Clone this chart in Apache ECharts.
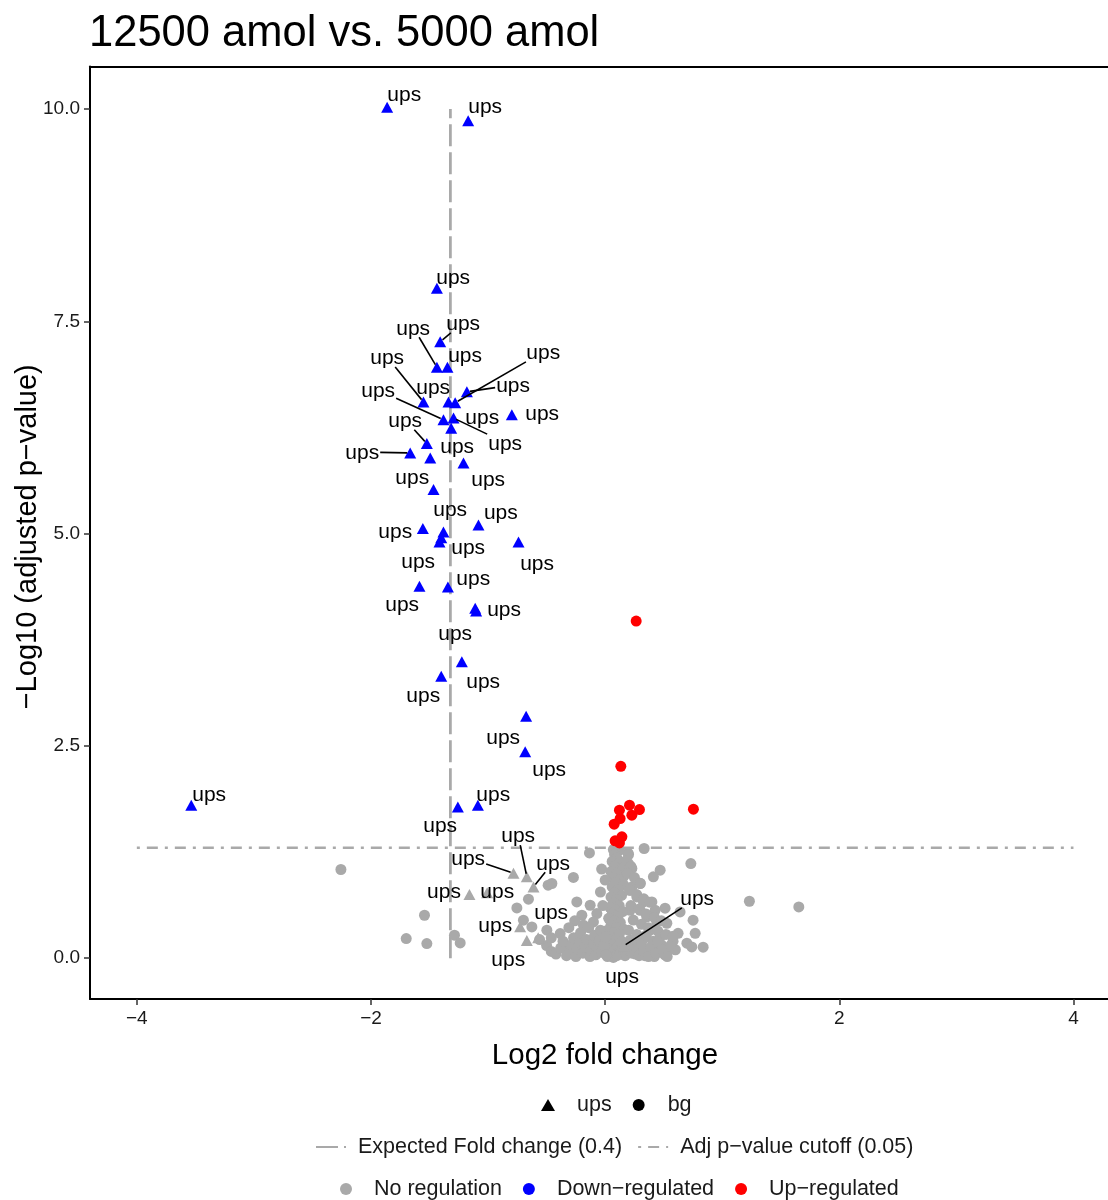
<!DOCTYPE html>
<html>
<head>
<meta charset="utf-8">
<script src="https://cdn.jsdelivr.net/npm/echarts@6/dist/echarts.min.js"></script>
<style>
html,body{margin:0;padding:0;background:#fff;}
#chart{width:1108px;height:1200px;}
</style>
</head>
<body>
<div id="chart"></div>
<script>
// ---------------- DATA ----------------
const titleText = '12500 amol vs. 5000 amol';
const xTicks = [-4, -2, 0, 2, 4];
const yTicks = [0, 2.5, 5, 7.5, 10];
const expectedFoldChange = 0.4;   // vertical reference (log2 scale)
const adjPCutoff = 0.05;          // horizontal reference (-log10 scale)
const vLineYRange = [0, 10];
const hLineXRange = [-4, 4];
const labelText = 'ups';

// ups, down-regulated: [log2FC, -log10 adj p, labelX, labelY, leaderLine]
const upsDown = [
  [-1.862, 10.02, -1.716, 10.18, 0],
  [-1.170, 9.86, -1.025, 10.04, 0],
  [-1.437, 7.89, -1.298, 8.03, 0],
  [-1.409, 7.26, -1.213, 7.48, 1],
  [-1.437, 6.96, -1.640, 7.43, 1],
  [-1.347, 6.96, -1.196, 7.11, 0],
  [-1.552, 6.55, -1.862, 7.08, 1],
  [-1.338, 6.55, -1.469, 6.73, 0],
  [-1.181, 6.67, -0.786, 6.75, 1],
  [-1.281, 6.54, -0.529, 7.14, 1],
  [-1.381, 6.34, -1.939, 6.69, 1],
  [-1.295, 6.36, -0.854, 6.07, 1],
  [-1.315, 6.24, -1.050, 6.38, 0],
  [-0.797, 6.40, -0.538, 6.42, 0],
  [-1.523, 6.06, -1.708, 6.34, 1],
  [-1.665, 5.95, -2.075, 5.96, 1],
  [-1.494, 5.89, -1.264, 6.04, 0],
  [-1.210, 5.83, -0.999, 5.65, 0],
  [-1.466, 5.52, -1.648, 5.67, 0],
  [-1.557, 5.06, -1.793, 5.03, 0],
  [-1.082, 5.10, -0.891, 5.26, 0],
  [-1.381, 5.02, -1.324, 5.29, 0],
  [-1.415, 4.90, -1.597, 4.68, 0],
  [-1.400, 4.95, -1.170, 4.85, 0],
  [-0.740, 4.90, -0.581, 4.66, 0],
  [-1.586, 4.38, -1.734, 4.17, 0],
  [-1.343, 4.37, -1.127, 4.48, 0],
  [-1.110, 4.12, -0.863, 4.12, 0],
  [-1.102, 4.09, -1.281, 3.83, 0],
  [-1.224, 3.49, -1.042, 3.27, 0],
  [-1.400, 3.32, -1.554, 3.10, 0],
  [-0.675, 2.85, -0.871, 2.61, 0],
  [-0.683, 2.43, -0.478, 2.23, 0],
  [-3.535, 1.80, -3.382, 1.94, 0],
  [-1.258, 1.78, -1.409, 1.57, 0],
  [-1.087, 1.80, -0.956, 1.94, 0]
];

// ups, not regulated: [log2FC, -log10 adj p, labelX, labelY, leaderLine]
const upsNoReg = [
  [-0.783, 1.00, -1.170, 1.18, 1],
  [-0.669, 0.96, -0.743, 1.45, 1],
  [-0.612, 0.84, -0.444, 1.13, 1],
  [-1.159, 0.75, -1.376, 0.80, 0],
  [-1.008, 0.77, -0.922, 0.80, 0],
  [-0.726, 0.37, -0.939, 0.40, 0],
  [-0.572, 0.24, -0.461, 0.55, 0],
  [-0.669, 0.21, -0.828, -0.01, 0],
  [0.154, 0.14, 0.786, 0.71, 1],
  [0.100, 0.05, 0.145, -0.20, 0]
];

// background, up-regulated
const bgUp = [
  [0.265, 3.97], [0.134, 2.26], [0.754, 1.755], [0.122, 1.743], [0.208, 1.802],
  [0.293, 1.751], [0.228, 1.684], [0.128, 1.645], [0.077, 1.578], [0.143, 1.429],
  [0.085, 1.382], [0.122, 1.358]
];

// background, no regulation
const bgNoReg = [
  [-2.257, 1.045], [-1.543, 0.506], [-1.699, 0.232], [-1.523, 0.173], [-1.287, 0.271], [-1.238, 0.180],
  [-0.655, 0.695], [-0.754, 0.592], [-0.698, 0.448], [-0.626, 0.369], [-0.487, 0.860], [-0.455, 0.880],
  [-0.271, 0.951], [-0.134, 1.240],
  [0.196, 1.237], [0.333, 1.292], [0.732, 1.115], [0.470, 1.037], [0.412, 0.958], [0.299, 0.883], [0.213, 0.801],
  [1.232, 0.671], [1.654, 0.604], [0.640, 0.545], [0.512, 0.589], [0.527, 0.412], [0.751, 0.448], [0.769, 0.294],
  [0.623, 0.294], [0.698, 0.177], [0.837, 0.130], [0.740, 0.133], [0.527, 0.059],
  [0.199, 1.115], [0.228, 1.057], [0.156, 0.958], [0.228, 0.840], [0.271, 0.722], [0.327, 0.663], [0.399, 0.663],
  [0.427, 0.565], [0.299, 0.565], [0.213, 0.565], [0.356, 0.486], [0.441, 0.428], [0.384, 0.330], [0.470, 0.251],
  [0.412, 0.153], [0.512, 0.094], [0.299, 0.094], [0.213, 0.212],
  [-0.242, 0.663], [-0.128, 0.624], [-0.071, 0.526], [-0.199, 0.506], [-0.100, 0.428], [-0.185, 0.389],
  [-0.498, 0.330], [-0.384, 0.291], [-0.356, 0.173], [-0.56, 0.22], [-0.50, 0.15], [-0.46, 0.08],
  [0.07, 1.28], [0.12, 1.27], [0.08, 1.22], [0.10, 1.18], [0.06, 1.14], [0.12, 1.12], [0.08, 1.08], [0.15, 1.05],
  [0.05, 1.02], [0.10, 0.99], [0.07, 0.95], [0.13, 0.93], [0.09, 0.89], [0.16, 0.86], [0.06, 0.84], [0.11, 0.81],
  [0.08, 0.77], [0.14, 0.74], [0.05, 0.72], [0.10, 0.69], [0.07, 0.65], [0.12, 0.62], [0.04, 0.60], [0.09, 0.57],
  [0.15, 0.55], [0.06, 0.52], [0.11, 0.49], [0.03, 0.47], [0.08, 0.44], [0.13, 0.42], [0.05, 0.39], [0.10, 0.36],
  [0.16, 0.34], [0.02, 0.33], [0.07, 0.30], [0.12, 0.28], [0.04, 0.25], [0.09, 0.22], [0.14, 0.20], [0.01, 0.19],
  [0.06, 0.16], [0.11, 0.14], [0.03, 0.11], [0.08, 0.09], [0.13, 0.07], [0.05, 0.05], [0.10, 0.03], [0.02, 0.02],
  [0.07, 0.01],
  [0.20, 1.22], [0.18, 1.15], [0.22, 1.08], [0.19, 1.00], [0.25, 0.95], [0.30, 0.88], [0.21, 0.80], [0.27, 0.75],
  [0.33, 0.70], [0.38, 0.66], [0.22, 0.62], [0.29, 0.58], [0.35, 0.52], [0.42, 0.48], [0.48, 0.44], [0.24, 0.45],
  [0.31, 0.40], [0.37, 0.36], [0.45, 0.32], [0.52, 0.28], [0.20, 0.33], [0.27, 0.28], [0.34, 0.24], [0.41, 0.20],
  [0.48, 0.16], [0.55, 0.12], [0.22, 0.18], [0.30, 0.14], [0.38, 0.10], [0.46, 0.07], [0.18, 0.08], [0.26, 0.05],
  [0.34, 0.03], [0.42, 0.02], [0.51, 0.04], [0.60, 0.10], [0.58, 0.20],
  [-0.42, 0.05], [-0.38, 0.12], [-0.36, 0.20], [-0.33, 0.03], [-0.30, 0.09], [-0.29, 0.16], [-0.27, 0.24],
  [-0.25, 0.02], [-0.24, 0.11], [-0.22, 0.18], [-0.21, 0.30], [-0.19, 0.06], [-0.17, 0.13], [-0.16, 0.22],
  [-0.14, 0.36], [-0.13, 0.02], [-0.12, 0.09], [-0.10, 0.17], [-0.09, 0.27], [-0.08, 0.04], [-0.06, 0.12],
  [-0.05, 0.20], [-0.04, 0.33], [-0.03, 0.07], [-0.01, 0.15], [0.00, 0.25], [0.01, 0.04],
  [0.17, 0.03], [0.19, 0.10], [0.21, 0.16], [0.23, 0.06], [0.25, 0.22], [0.27, 0.12], [0.29, 0.03], [0.31, 0.17],
  [0.33, 0.08], [0.35, 0.27], [0.37, 0.02], [0.39, 0.13], [0.43, 0.06], [0.45, 0.19], [0.49, 0.10], [0.53, 0.02],
  [0.56, 0.15], [0.58, 0.26],
  [-0.02, 0.62], [-0.04, 0.78], [0.00, 0.92], [-0.03, 1.05], [-0.26, 0.44], [-0.31, 0.36], [-0.46, 0.24]
];

// ---------------- STYLE ----------------
const FONT = "'Liberation Sans', Arial, Helvetica, sans-serif";
const GRAY = '#a9a9a9';
const BLUE = '#0000ff';
const RED = '#ff0000';
const TXT = '#1a1a1a';

const fcX = Math.log2(expectedFoldChange);
const pY = -Math.log10(adjPCutoff);

const chart = echarts.init(document.getElementById('chart'), null, {renderer: 'canvas', width: 1108, height: 1200});

function labelRender(params, api) {
  const p = api.coord([api.value(0), api.value(1)]);
  const l = api.coord([api.value(2), api.value(3)]);
  const children = [];
  if (api.value(4) === 1) {
    const dx = p[0] - l[0], dy = p[1] - l[1];
    const hw = 18, hh = 10;
    const tx = Math.abs(dx) > 0 ? hw / Math.abs(dx) : Infinity;
    const ty = Math.abs(dy) > 0 ? hh / Math.abs(dy) : Infinity;
    const t = Math.min(tx, ty);
    const len = Math.hypot(dx, dy);
    children.push({
      type: 'line',
      shape: {x1: l[0] + dx * t, y1: l[1] + dy * t, x2: p[0] - dx / len * 3, y2: p[1] - dy / len * 3},
      style: {stroke: '#000', lineWidth: 1.6}
    });
  }
  children.push({
    type: 'text',
    x: l[0], y: l[1] + 1.5,
    style: {text: labelText, align: 'center', verticalAlign: 'middle', fontSize: 21, fontFamily: FONT, fill: '#000'}
  });
  return {type: 'group', children: children};
}

const legendText = {fontSize: 21.5, fontFamily: FONT, color: TXT, lineHeight: 22};
const hidden = {opacity: 0};

const option = {
  animation: false,
  backgroundColor: '#fff',
  title: {
    text: titleText, left: 89, top: 12, padding: 0,
    textStyle: {fontSize: 43.5, fontWeight: 'normal', fontFamily: FONT, color: '#000'}
  },
  grid: {left: 90, right: 0, top: 66.5, bottom: 201, containLabel: false, outerBoundsMode: 'none'},
  xAxis: [{
    type: 'value', min: -4.4, max: 4.295, position: 'bottom',
    name: 'Log2 fold change', nameLocation: 'middle', nameGap: 42,
    nameTextStyle: {fontSize: 29.5, fontFamily: FONT, color: '#000', padding: [0, 0, 0, 12]},
    axisLine: {show: true, onZero: false, lineStyle: {color: '#000', width: 2}},
    axisTick: {show: true, length: 6, lineStyle: {color: '#333', width: 1.5}, customValues: xTicks},
    axisLabel: {customValues: xTicks, margin: 10, fontSize: 19, fontFamily: FONT, color: TXT,
      formatter: v => String(v).replace('-', '\u2212')},
    splitLine: {show: false}
  }, {
    type: 'value', min: -4.4, max: 4.295, position: 'top',
    axisLine: {show: true, onZero: false, lineStyle: {color: '#000', width: 2}},
    axisTick: {show: false}, axisLabel: {show: false}, splitLine: {show: false}
  }],
  yAxis: {
    type: 'value', min: -0.48, max: 10.5,
    name: '\u2212Log10 (adjusted p\u2212value)', nameLocation: 'middle', nameGap: 48, nameRotate: 90,
    nameMoveOverlap: false,
    nameTextStyle: {fontSize: 29, fontFamily: FONT, color: '#000', padding: [0, 8, 0, 0]},
    axisLine: {show: true, onZero: false, lineStyle: {color: '#000', width: 2}},
    axisTick: {show: true, length: 6, lineStyle: {color: '#333', width: 1.5}, customValues: yTicks},
    axisLabel: {customValues: yTicks, margin: 10, fontSize: 19, fontFamily: FONT, color: TXT,
      formatter: v => v.toFixed(1)},
    splitLine: {show: false}
  },
  legend: [{
    left: 541, top: 1094, padding: 0, orient: 'horizontal', selectedMode: false,
    itemWidth: 14, itemHeight: 12, itemGap: 21,
    textStyle: Object.assign({padding: [0, 0, 0, 17]}, legendText),
    data: [{name: 'ups', icon: 'triangle'}, {name: 'bg', icon: 'circle'}]
  }, {
    left: 315, top: 1136, padding: 0, selectedMode: false,
    itemWidth: 30, itemHeight: 14, itemGap: 15,
    textStyle: Object.assign({padding: [0, 0, 0, 7]}, legendText),
    data: [
      {name: 'Expected Fold change (0.4)', itemStyle: hidden},
      {name: 'Adj p\u2212value cutoff (0.05)', itemStyle: hidden}
    ]
  }, {
    left: 340, top: 1178, padding: 0, selectedMode: false,
    itemWidth: 12, itemHeight: 12, itemGap: 21,
    textStyle: Object.assign({padding: [0, 0, 0, 17]}, legendText),
    data: [{name: 'No regulation', icon: 'circle'}, {name: 'Down\u2212regulated', icon: 'circle'}, {name: 'Up\u2212regulated', icon: 'circle'}]
  }],
  series: [
    {
      name: 'Expected Fold change (0.4)', type: 'line', symbol: 'none', z: 1, silent: true,
      data: [[fcX, vLineYRange[0]], [fcX, vLineYRange[1]]],
      lineStyle: {color: GRAY, width: 2.8, type: [22, 6]}, itemStyle: {color: GRAY, opacity: 0}
    },
    {
      name: 'Adj p\u2212value cutoff (0.05)', type: 'line', symbol: 'none', z: 1, silent: true,
      data: [[hLineXRange[0], pY], [hLineXRange[1], pY]],
      lineStyle: {color: GRAY, width: 2.7, type: [3, 7, 11, 7]}, itemStyle: {color: GRAY, opacity: 0}
    },
    {
      name: 'bgNoRegPoints', type: 'scatter', symbol: 'circle', symbolSize: 11, z: 2,
      itemStyle: {color: GRAY, opacity: 1}, data: bgNoReg
    },
    {
      name: 'upsNoRegPoints', type: 'scatter', symbol: 'triangle', symbolSize: [12, 11], z: 2,
      itemStyle: {color: GRAY, opacity: 1}, data: upsNoReg.map(d => [d[0], d[1]])
    },
    {
      name: 'bgUpPoints', type: 'scatter', symbol: 'circle', symbolSize: 11, z: 3,
      itemStyle: {color: RED, opacity: 1}, data: bgUp
    },
    {
      name: 'upsDownPoints', type: 'scatter', symbol: 'triangle', symbolSize: [12, 11], z: 4,
      itemStyle: {color: BLUE, opacity: 1}, data: upsDown.map(d => [d[0], d[1]])
    },
    {
      name: 'labelsDown', type: 'custom', z: 10, silent: true,
      dimensions: ['x', 'y', 'lx', 'ly', 'seg'], encode: {x: 0, y: 1},
      renderItem: labelRender, data: upsDown
    },
    {
      name: 'labelsNoReg', type: 'custom', z: 10, silent: true,
      dimensions: ['x', 'y', 'lx', 'ly', 'seg'], encode: {x: 0, y: 1},
      renderItem: labelRender, data: upsNoReg
    },
    // legend-only series
    {name: 'ups', type: 'scatter', symbol: 'triangle', itemStyle: {color: '#000', opacity: 1}, data: []},
    {name: 'bg', type: 'scatter', symbol: 'circle', itemStyle: {color: '#000', opacity: 1}, data: []},
    {name: 'No regulation', type: 'scatter', symbol: 'circle', itemStyle: {color: GRAY, opacity: 1}, data: []},
    {name: 'Down\u2212regulated', type: 'scatter', symbol: 'circle', itemStyle: {color: BLUE, opacity: 1}, data: []},
    {name: 'Up\u2212regulated', type: 'scatter', symbol: 'circle', itemStyle: {color: RED, opacity: 1}, data: []}
  ]
};
chart.setOption(option);
</script>
</body>
</html>
